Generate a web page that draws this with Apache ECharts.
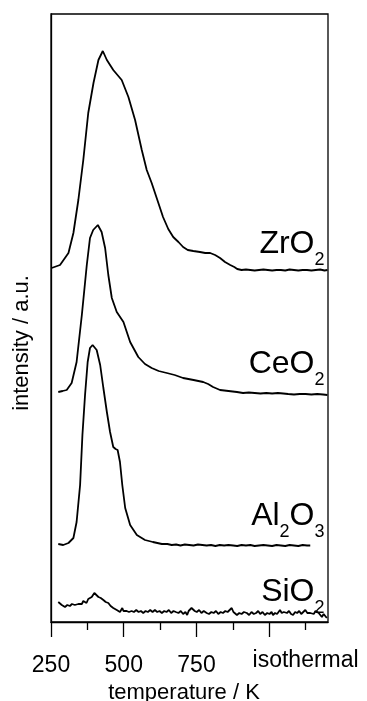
<!DOCTYPE html>
<html>
<head>
<meta charset="utf-8">
<title>TPD traces</title>
<script src="https://cdn.jsdelivr.net/npm/echarts@6/dist/echarts.min.js"></script>
<style>
  html, body { margin: 0; padding: 0; background: #fff; }
  #TpdChart { width: 367px; height: 701px; }
</style>
</head>
<body>
<div id="TpdChart"></div>
<script>
/* x axis: temperature ticks and labels */
const majorTicks = [250, 500, 750, 1000]
const minorTicks = [375, 625, 875, 1125]
const labelTicks = [250, 500, 750, 1125]
const labelTexts = ['250', '500', '750', 'isothermal']

/* sample names, top to bottom */
const sampleNames = ['ZrO2', 'CeO2', 'Al2O3', 'SiO2']

/* ZrO2 trace (offset intensity, a.u.) */
const zrTemp = [252, 281, 310, 327, 344, 361, 378, 396, 413, 428, 442, 464, 493, 516, 539, 562, 579, 596, 619, 635,
  653, 670, 688, 704, 720, 739, 762, 780, 797, 814, 831, 848, 866, 880, 890, 905, 920, 935, 950, 965,
  980, 995, 1010, 1025, 1040, 1055, 1070, 1085, 1100, 1115, 1130, 1145, 1160, 1175, 1190, 1200]
const zrSignal = [354, 357, 369, 389, 422, 462, 509, 539, 562, 571, 562, 552, 542, 525, 502, 472, 452, 439, 419, 405,
  393, 385, 380, 375, 372, 371, 370, 369, 369, 367, 364, 360, 357, 355, 353, 352, 352.5, 352, 351.5, 352,
  352.5, 352, 351.5, 352, 352, 351.5, 352.5, 352, 351.5, 352, 352, 351.5, 352, 352.5, 351.5, 352]

/* CeO2 trace */
const ceTemp = [275, 290, 304, 321, 338, 356, 373, 384, 395, 411, 424, 436, 447, 459, 476, 499, 522, 550, 573, 596,
  620, 648, 675, 704, 740, 773, 790, 807, 831, 860, 889, 910, 930, 950, 970, 990, 1010, 1030, 1048, 1065,
  1085, 1105, 1125, 1145, 1165, 1185, 1200]
const ceSignal = [230, 231, 232, 239, 260, 307, 357, 384, 392, 397, 390, 374, 347, 324, 310, 300, 280, 265, 258, 254,
  251, 249, 247, 244, 242, 240, 238, 235, 232, 231, 230, 229, 229.5, 229, 228.5, 229, 228.5, 229, 228.5, 228,
  227.5, 228, 228, 227.5, 228, 227.5, 227]

/* Al2O3 trace */
const alTemp = [275, 292, 310, 327, 338, 350, 358, 367, 376, 384, 393, 407, 419, 430, 442, 453, 464, 472, 479, 487,
  495, 505, 522, 545, 573, 600, 631, 650, 665, 680, 695, 710, 725, 740, 755, 770, 785, 800, 815, 830,
  845, 860, 876, 890, 905, 920, 935, 950, 965, 980, 995, 1010, 1025, 1040, 1055, 1070, 1085, 1100, 1115, 1130, 1141]
const alSignal = [78, 77, 79, 84, 100, 137, 187, 227, 260, 274, 277, 272, 257, 234, 210, 190, 175, 173, 172, 160,
  137, 114, 97, 87, 82, 80, 78, 78, 77, 77.5, 76.5, 77.5, 77, 76.5, 77.5, 77, 76.5, 77, 76, 77,
  76.5, 77, 76.5, 76, 77, 76.5, 77, 76, 76.5, 77, 76.5, 76, 77, 76.5, 76, 77, 76.5, 76, 77, 76.5, 76.5]

/* SiO2 trace */
const siTemp = [275, 281, 287, 293, 298, 306, 315, 322, 332, 338, 344, 350, 356, 361, 367, 372, 378, 384, 390, 395,
  399, 405, 413, 421, 430, 438, 447, 455, 464, 470, 476, 482, 487, 491, 495, 499, 502, 510, 518, 527,
  535, 543, 551, 559, 567, 575, 583, 591, 599, 607, 615, 623, 631, 639, 647, 655, 663, 671, 679, 688,
  696, 704, 712, 718, 723, 728, 733, 738, 744, 751, 759, 767, 775, 785, 793, 801, 809, 817, 825, 833,
  841, 849, 857, 864, 871, 877, 883, 889, 897, 905, 913, 923, 931, 939, 947, 955, 962, 969, 977, 985,
  993, 1001, 1008, 1013, 1020, 1027, 1033, 1037, 1043, 1050, 1056, 1061, 1068, 1075, 1082, 1089, 1096, 1103, 1110, 1117,
  1124, 1131, 1137, 1141, 1147, 1153, 1159, 1164, 1170, 1176, 1181, 1187, 1198]
const siSignal = [20, 18, 17, 16, 15, 17, 16, 18, 17, 19, 18, 20, 18, 21, 20, 19, 23, 21, 25, 27,
  29, 27, 25, 24, 22, 20, 19, 16, 14, 15, 12, 13, 10, 12, 14, 11, 9, 11, 10, 11,
  10, 12, 10, 11, 9, 11, 10, 12, 10, 12, 10, 11, 9, 11, 10, 12, 9, 11, 10, 9,
  11, 8, 10, 7, 11, 10, 14, 15, 11, 10, 12, 9, 11, 9, 8, 10, 9, 11, 8, 10,
  9, 11, 10, 12, 14, 10, 12, 7, 9, 8, 10, 9, 7, 10, 8, 9, 11, 8, 10, 7,
  9, 8, 10, 7, 9, 8, 10, 12, 9, 10, 8, 9, 11, 8, 7, 10, 9, 11, 8, 10,
  12, 9, 11, 9, 10, 8, 11, 12, 9, 10, 5, 8, 4]

const fontFamily = '"Liberation Sans", Arial, sans-serif'

/**
 * @description: zip temperature and signal arrays into [x, y] pairs
 */
function pairs(xs, ys) {
  return xs.map((x, i) => [x, ys[i]])
}

/**
 * @description: turn 'Al2O3' into rich text with subscript digits
 */
function chemLabel(name) {
  return name
    .split(/(\d)/)
    .filter(Boolean)
    .map(p => (/\d/.test(p) ? `{s|${p}}` : `{m|${p}}`))
    .join('')
}

const traces = [
  { temp: zrTemp, signal: zrSignal },
  { temp: ceTemp, signal: ceSignal },
  { temp: alTemp, signal: alSignal },
  { temp: siTemp, signal: siSignal }
]

/* label anchors (right edge, vertical centre) in data units */
const labelX = 1190
const labelY = [369, 248.5, 96.5, 21]

const lineSeries = traces.map((t, i) => ({
  name: sampleNames[i],
  type: 'line',
  showSymbol: false,
  smooth: false,
  lineStyle: { color: '#000', width: 1.8 },
  data: pairs(t.temp, t.signal)
}))

const labelSeries = {
  type: 'scatter',
  symbolSize: 0,
  silent: true,
  itemStyle: { opacity: 1 },
  data: sampleNames.map((n, i) => ({ value: [labelX, labelY[i]], name: n })),
  label: {
    show: true,
    position: 'left',
    distance: 0,
    opacity: 1,
    color: '#000',
    fontFamily: fontFamily,
    formatter: p => chemLabel(p.name),
    rich: {
      m: { fontSize: 32, lineHeight: 32, padding: [0, 0, 9, 0], verticalAlign: 'bottom', color: '#000', fontFamily: fontFamily },
      s: { fontSize: 18, lineHeight: 18, verticalAlign: 'bottom', color: '#000', fontFamily: fontFamily }
    }
  }
}

const axisLineStyle = { color: '#000', width: 1.3 }

const myChart = echarts.init(document.getElementById('TpdChart'))
myChart.setOption({
  animation: false,
  textStyle: { fontFamily: fontFamily, color: '#000' },
  /* plot frame, fixed in pixels (no auto shrinking for labels) */
  grid: {
    left: 51,
    right: 39,
    top: 14,
    bottom: 79,
    containLabel: false,
    outerBoundsMode: 'none',
    show: true,
    borderColor: '#000',
    borderWidth: 1.3
  },
  xAxis: [
    {
      type: 'value',
      position: 'bottom',
      min: 250,
      max: 1202,
      name: 'temperature / K',
      nameLocation: 'middle',
      nameGap: 60,
      nameTextStyle: { fontSize: 22, color: '#000', fontFamily: fontFamily, padding: [0, 11, 0, 0] },
      axisLine: { show: true, onZero: false, lineStyle: axisLineStyle },
      axisTick: { show: true, length: 15, customValues: majorTicks, lineStyle: axisLineStyle },
      axisLabel: {
        customValues: labelTicks,
        margin: 32,
        fontSize: 23,
        color: '#000',
        fontFamily: fontFamily,
        formatter: v => {
          const i = labelTicks.indexOf(v)
          const txt = i >= 0 ? labelTexts[i] : ''
          return txt === 'isothermal' ? `{iso|${txt}}` : txt
        },
        rich: {
          iso: { fontSize: 23, lineHeight: 13, color: '#000', fontFamily: fontFamily }
        }
      },
      splitLine: { show: false }
    },
    {
      // minor ticks only
      type: 'value',
      position: 'bottom',
      min: 250,
      max: 1202,
      axisLine: { show: false },
      axisTick: { show: true, length: 8, customValues: minorTicks, lineStyle: axisLineStyle },
      axisLabel: { show: false },
      splitLine: { show: false }
    }
  ],
  yAxis: {
    type: 'value',
    min: 0,
    max: 608,
    name: 'intensity / a.u.',
    nameLocation: 'middle',
    nameRotate: 90,
    nameGap: 18,
    nameTextStyle: { fontSize: 22, color: '#000', fontFamily: fontFamily, padding: [0, 50, 0, 0] },
    axisLine: { show: true, lineStyle: axisLineStyle },
    axisTick: { show: false },
    axisLabel: { show: false },
    splitLine: { show: false }
  },
  series: [...lineSeries, labelSeries]
})
</script>
</body>
</html>
